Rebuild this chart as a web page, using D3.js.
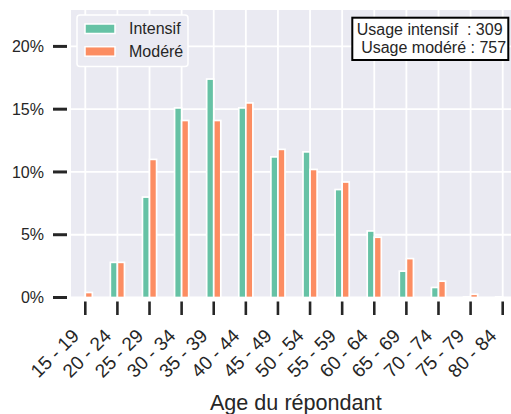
<!DOCTYPE html>
<html>
<head>
<meta charset="utf-8">
<script src="https://cdn.jsdelivr.net/npm/d3@7"></script>
<style>
  html, body { margin: 0; padding: 0; background: #ffffff; }
  svg { display: block; font-family: "Liberation Sans", Arial, sans-serif; }
</style>
</head>
<body>
<svg id="chart" width="511" height="414"></svg>
<script>
const categories = ["15 - 19","20 - 24","25 - 29","30 - 34","35 - 39","40 - 44","45 - 49","50 - 54","55 - 59","60 - 64","65 - 69","70 - 74","75 - 79","80 - 84"];
const intensif = [0, 2.8, 8.0, 15.1, 17.4, 15.1, 11.2, 11.6, 8.6, 5.3, 2.1, 0.8, 0.05, 0.05];
const modere   = [0.4, 2.8, 11.0, 14.1, 14.1, 15.5, 11.8, 10.2, 9.2, 4.8, 3.1, 1.3, 0.26, 0];
const yTicks = [0, 5, 10, 15, 20];
const seriesNames = ["Intensif", "Modéré"];
const colors = ["#66c2a5", "#fc8d62"];
const annotationLines = ["Usage intensif  : 309", " Usage modéré : 757"];
const xLabel = "Age du répondant";

const svg = d3.select("#chart");
const plot = { left: 71, right: 511, top: 10, bottom: 297.5 };
const textColor = "#262626";

const x = d3.scalePoint().domain(categories).range([85.3, 502.7]);
const step = x.step();
const y = d3.scaleLinear().domain([0, 22.9]).range([plot.bottom, plot.top]);
const barW = step * 0.22;

// background
svg.append("rect").attr("x", plot.left).attr("y", plot.top)
  .attr("width", plot.right - plot.left).attr("height", plot.bottom - plot.top)
  .attr("fill", "#eaeaf2");

svg.append("clipPath").attr("id", "plotclip").append("rect")
  .attr("x", plot.left).attr("y", plot.top - 2)
  .attr("width", plot.right - plot.left).attr("height", plot.bottom - plot.top + 4);

const g = svg.append("g").attr("clip-path", "url(#plotclip)");

// grid
g.selectAll("line.hgrid").data(yTicks).join("line")
  .attr("x1", plot.left).attr("x2", plot.right)
  .attr("y1", d => y(d)).attr("y2", d => y(d))
  .attr("stroke", "#ffffff").attr("stroke-width", 1.8);
g.selectAll("line.vgrid").data(categories).join("line")
  .attr("x1", d => x(d)).attr("x2", d => x(d))
  .attr("y1", plot.top).attr("y2", plot.bottom)
  .attr("stroke", "#ffffff").attr("stroke-width", 1.8);

// bars
const series = [intensif, modere];
series.forEach((vals, si) => {
  g.selectAll("rect.s" + si).data(categories).join("rect")
    .attr("x", (d) => si === 0 ? x(d) - barW : x(d))
    .attr("y", (d, i) => y(vals[i]))
    .attr("width", barW)
    .attr("height", (d, i) => y(0) - y(vals[i]))
    .attr("fill", colors[si])
    .attr("stroke", "#ffffff").attr("stroke-width", 1.7);
});

// y ticks
const yAx = svg.append("g");
yTicks.forEach(t => {
  yAx.append("line").attr("x1", 53).attr("x2", 67).attr("y1", y(t)).attr("y2", y(t))
    .attr("stroke", textColor).attr("stroke-width", 3);
  yAx.append("text").attr("x", 44).attr("y", y(t)).attr("dy", "0.36em")
    .attr("text-anchor", "end").attr("font-size", 16).attr("fill", textColor)
    .text(t + "%");
});

// x ticks
const xAx = svg.append("g");
categories.forEach(c => {
  xAx.append("line").attr("x1", x(c)).attr("x2", x(c)).attr("y1", 301.5).attr("y2", 315)
    .attr("stroke", textColor).attr("stroke-width", 2.6);
  xAx.append("text")
    .attr("transform", `translate(${x(c) - 5},${337}) rotate(-45)`)
    .attr("text-anchor", "end").attr("font-size", 19).attr("fill", textColor)
    .text(c);
});

// x label
svg.append("text").attr("x", 295.8).attr("y", 409.5).attr("text-anchor", "middle")
  .attr("font-size", 21.6).attr("fill", textColor).text(xLabel);

// legend
const lg = svg.append("g");
lg.append("rect").attr("x", 77).attr("y", 15).attr("width", 111).attr("height", 51.5)
  .attr("rx", 3).attr("fill", "#eaeaf2").attr("stroke", "#ffffff").attr("stroke-width", 1.5);
seriesNames.forEach((n, i) => {
  const yy = 24 + i * 22.7;
  lg.append("rect").attr("x", 85).attr("y", yy).attr("width", 30).attr("height", 9.5)
    .attr("fill", colors[i]).attr("stroke", "#ffffff").attr("stroke-width", 1.5);
  lg.append("text").attr("x", 129).attr("y", yy + 10.3).attr("font-size", 16)
    .attr("fill", textColor).text(n);
});

// annotation box
const ab = svg.append("g");
ab.append("rect").attr("x", 352.3).attr("y", 17.7).attr("width", 156).attr("height", 42.3)
  .attr("fill", "#ffffff").attr("stroke", "#000000").attr("stroke-width", 2);
annotationLines.forEach((l, i) => {
  ab.append("text").attr("x", 356.7).attr("y", 35 + i * 18.3).attr("font-size", 16)
    .attr("fill", textColor).style("white-space", "pre").text(l);
});
</script>
</body>
</html>
